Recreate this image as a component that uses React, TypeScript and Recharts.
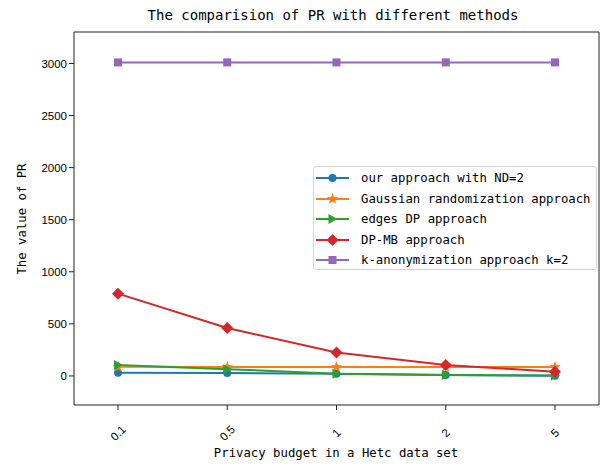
import React from 'react';
import { LineChart, Line, XAxis, YAxis, Legend, Label } from 'recharts';

// values
const budgets = ['0.1', '0.5', '1', '2', '5'];
const ourApproach = [30, 28, 20, 8, 3];
const gaussian = [88, 85, 85, 85, 85];
const edgesDP = [105, 65, 22, 10, 5];
const dpMB = [790, 460, 225, 105, 40];
const kAnon = [3010, 3010, 3010, 3010, 3010];
const yTicks = [0, 500, 1000, 1500, 2000, 2500, 3000];
const yDomain = [-279, 3302];

const series = [
  { key: 'our', name: 'our approach with ND=2', color: '#1f77b4', shape: 'circle', values: ourApproach },
  { key: 'gauss', name: 'Gaussian randomization approach', color: '#ff7f0e', shape: 'star', values: gaussian },
  { key: 'edges', name: 'edges DP approach', color: '#2ca02c', shape: 'triangle', values: edgesDP },
  { key: 'dpmb', name: 'DP-MB approach', color: '#d62728', shape: 'diamond', values: dpMB },
  { key: 'kanon', name: 'k-anonymization approach k=2', color: '#9467bd', shape: 'square', values: kAnon },
];

const data = budgets.map((b, i) => {
  const row: Record<string, any> = { budget: b };
  series.forEach((s) => {
    row[s.key] = s.values[i];
  });
  return row;
});

const MONO = '"DejaVu Sans Mono", monospace';
const SANS = '"Liberation Sans", Arial, sans-serif';
const AXIS = '#222';

function starPoints(cx: number, cy: number, ro: number, ri: number) {
  const pts: string[] = [];
  for (let i = 0; i < 10; i++) {
    const r = i % 2 === 0 ? ro : ri;
    const a = -Math.PI / 2 + (i * Math.PI) / 5;
    pts.push(`${cx + r * Math.cos(a)},${cy + r * Math.sin(a)}`);
  }
  return pts.join(' ');
}

function Marker({ shape, cx, cy, color }: { shape: string; cx: number; cy: number; color: string }) {
  switch (shape) {
    case 'circle':
      return <circle cx={cx} cy={cy} r={4} fill={color} />;
    case 'star':
      return <polygon points={starPoints(cx, cy, 6, 2.5)} fill={color} />;
    case 'triangle':
      return <polygon points={`${cx + 5},${cy} ${cx - 4},${cy - 5} ${cx - 4},${cy + 5}`} fill={color} />;
    case 'diamond':
      return <polygon points={`${cx},${cy - 6} ${cx + 6},${cy} ${cx},${cy + 6} ${cx - 6},${cy}`} fill={color} />;
    default:
      return <rect x={cx - 4} y={cy - 4} width={8} height={8} fill={color} />;
  }
}

const makeDot = (shape: string, color: string) => (props: any) => {
  const { cx, cy, index } = props;
  if (cx == null || cy == null) return <g key={`${shape}-${index}`} />;
  return (
    <g key={`${shape}-${index}`}>
      <Marker shape={shape} cx={cx} cy={cy} color={color} />
    </g>
  );
};

const XTick = (props: any) => {
  const { x, y, payload } = props;
  const cy = y + 21;
  return (
    <text
      x={x}
      y={cy}
      textAnchor="middle"
      dominantBaseline="central"
      transform={`rotate(-45, ${x}, ${cy})`}
      fontFamily={SANS}
      fontSize={11.5}
      fill="#000"
    >
      {payload.value}
    </text>
  );
};

const LegendBox = () => (
  <div
    style={{
      width: 284,
      height: 104,
      boxSizing: 'border-box',
      border: '1px solid #d4d4d4',
      borderRadius: 3,
      background: 'rgba(255,255,255,0.85)',
      position: 'relative',
    }}
  >
    {series.map((s, i) => (
      <div
        key={s.key}
        style={{ position: 'absolute', left: 1, top: 1 + i * 20.5, height: 20, display: 'flex', alignItems: 'center' }}
      >
        <svg width={46} height={20}>
          <line x1={1} x2={34} y1={10} y2={10} stroke={s.color} strokeWidth={2} />
          <Marker shape={s.shape} cx={17.5} cy={10} color={s.color} />
        </svg>
        <span style={{ fontFamily: MONO, fontSize: 12.3, color: '#000', whiteSpace: 'nowrap' }}>{s.name}</span>
      </div>
    ))}
  </div>
);

export default function App() {
  return (
    <div style={{ position: 'absolute', left: 0, top: 0, background: '#fff' }}>
      <LineChart width={601} height={466} data={data} margin={{ top: 31, right: 1, bottom: 0, left: 0 }}>
        <XAxis
          dataKey="budget"
          height={61}
          padding={{ left: 44, right: 44 }}
          stroke={AXIS}
          tickSize={5}
          tick={<XTick />}
          interval={0}
        >
          <Label
            content={() => (
              <text x={336} y={457} textAnchor="middle" fontFamily={MONO} fontSize={12.3} fill="#000">
                Privacy budget in a Hetc data set
              </text>
            )}
          />
        </XAxis>
        <XAxis
          xAxisId="top"
          dataKey="budget"
          orientation="top"
          height={1}
          stroke={AXIS}
          tick={false}
          tickLine={false}
        >
          <Label
            content={() => (
              <text x={333} y={20} textAnchor="middle" fontFamily={MONO} fontSize={14} fill="#000">
                The comparision of PR with different methods
              </text>
            )}
          />
        </XAxis>
        <YAxis
          width={74}
          domain={yDomain}
          ticks={yTicks}
          stroke={AXIS}
          tickSize={5}
          tickMargin={2}
          tick={{ fontFamily: SANS, fontSize: 11.5, fill: '#000' }}
        >
          <Label
            content={() => (
              <text
                x={26}
                y={219}
                textAnchor="middle"
                transform="rotate(-90, 26, 219)"
                fontFamily={MONO}
                fontSize={12.3}
                fill="#000"
              >
                The value of PR
              </text>
            )}
          />
        </YAxis>
        <YAxis
          yAxisId="right"
          orientation="right"
          width={1}
          domain={yDomain}
          stroke={AXIS}
          tick={false}
          tickLine={false}
        />
        {series.map((s) => (
          <Line
            key={s.key}
            type="linear"
            dataKey={s.key}
            name={s.name}
            stroke={s.color}
            strokeWidth={2}
            dot={makeDot(s.shape, s.color)}
            activeDot={false}
            isAnimationActive={false}
          />
        ))}
        <Legend
          layout="vertical"
          align="center"
          verticalAlign="middle"
          content={<LegendBox />}
          wrapperStyle={{ left: 313, top: 166, width: 284, height: 104 }}
        />
      </LineChart>
    </div>
  );
}
